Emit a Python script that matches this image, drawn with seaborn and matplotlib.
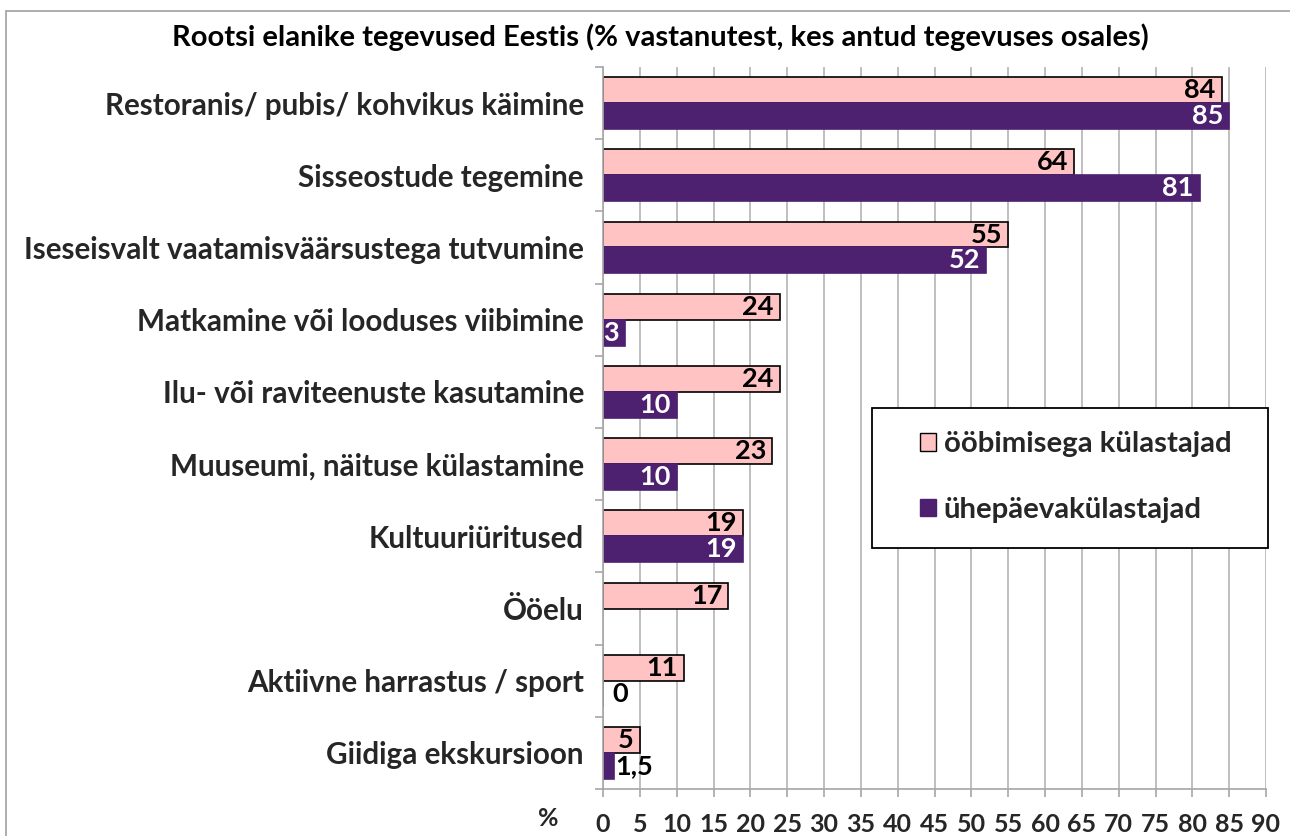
import numpy as np
import pandas as pd
import matplotlib
matplotlib.use("Agg")
import matplotlib.pyplot as plt
from matplotlib.patches import Rectangle
import seaborn as sns

# ---- data ----
categories = [
    "Restoranis/ pubis/ kohvikus käimine",
    "Sisseostude tegemine",
    "Iseseisvalt vaatamisväärsustega tutvumine",
    "Matkamine või looduses viibimine",
    "Ilu- või raviteenuste kasutamine",
    "Muuseumi, näituse külastamine",
    "Kultuuriüritused",
    "Ööelu",
    "Aktiivne harrastus / sport",
    "Giidiga ekskursioon",
]
series_names = ["ööbimisega külastajad", "ühepäevakülastajad"]
overnight = [84, 64, 55, 24, 24, 23, 19, 17, 11, 5]
sameday = [85, 81, 52, 3, 10, 10, 19, np.nan, 0, 1.5]
x_ticks = list(range(0, 95, 5))
title = "Rootsi elanike tegevused Eestis (% vastanutest, kes antud tegevuses osales)"

df = pd.DataFrame({
    "category": categories * 2,
    "value": overnight + sameday,
    "series": [series_names[0]] * len(categories) + [series_names[1]] * len(categories),
})

FONT = ["Lato", "DejaVu Sans"]
sns.set_theme(style="white")
plt.rcParams["font.family"] = FONT
plt.rcParams["font.weight"] = "bold"

W, H = 1290, 836
fig = plt.figure(figsize=(W / 100, H / 100), dpi=100)
ax = fig.add_axes([603 / W, 1 - 789 / H, (1266 - 603) / W, (789 - 67) / H])

pink = "#FFC3C3"
purple = "#4E2170"
sns.barplot(data=df, y="category", x="value", hue="series", orient="h",
            palette=[pink, purple], width=0.72, ax=ax, legend=False,
            order=categories, hue_order=series_names, saturation=1)

edge_colors = ["black", purple]
for cont, ec in zip(ax.containers, edge_colors):
    for p in cont.patches:
        p.set_edgecolor(ec)
        p.set_linewidth(1.2)

def fmt(v):
    if v == int(v):
        return str(int(v))
    return str(v).replace(".", ",")

# data labels: match each patch to its category by its position
for i, (cont, vals) in enumerate(zip(ax.containers, [overnight, sameday])):
    for p in cont.patches:
        yc = p.get_y() + p.get_height() / 2
        idx = int(round(yc))
        v = vals[idx]
        if v is None or (isinstance(v, float) and np.isnan(v)):
            continue
        if v < 2:
            ax.annotate(fmt(v), xy=(v, yc), xytext=(9 if v == 0 else 1, 0),
                        textcoords="offset pixels", ha="left", va="center",
                        fontsize=19.5, fontweight="bold", color="black")
        else:
            ax.annotate(fmt(v), xy=(v, yc), xytext=(-6, 0),
                        textcoords="offset pixels", ha="right", va="center",
                        fontsize=19.5, fontweight="bold",
                        color="black" if i == 0 else "white")

ax.set_xlim(0, 90)
ax.set_ylim(len(categories) - 0.5, -0.5)
ax.set_xticks(x_ticks)
ax.set_xticklabels([str(t) for t in x_ticks], fontsize=18, fontweight="bold")
ax.set_xlabel("")
ax.set_ylabel("")
ax.set_yticks(range(len(categories)))
ax.set_yticklabels(categories, fontsize=21.3, fontweight="bold")
ax.set_yticks(np.arange(-0.5, len(categories), 1), minor=True)
ax.tick_params(axis="y", which="major", length=0, pad=13.7)
ax.tick_params(axis="y", which="minor", length=6, color="#A6A6A6", width=1.2, direction="out", left=True)
ax.tick_params(axis="x", which="major", length=6, color="#A6A6A6", width=1.2,
               direction="out", bottom=True, pad=11)

ax.grid(axis="x", color="#BFBFBF", linewidth=1.4)
ax.grid(axis="y", visible=False)
ax.set_axisbelow(True)
for s in ["top", "right"]:
    ax.spines[s].set_visible(False)
for s in ["left", "bottom"]:
    ax.spines[s].set_color("#A6A6A6")
    ax.spines[s].set_linewidth(1.2)

# title
fig.text(660 / W, 1 - 37 / H, title, ha="center", va="center",
         fontsize=21, fontweight="bold", color="black")
# % unit label
fig.text(548 / W, 1 - 819 / H, "%", ha="center", va="center",
         fontsize=18, fontweight="bold")

# legend
handles = [Rectangle((0, 0), 1, 1, facecolor=pink, edgecolor="black", linewidth=1.0),
           Rectangle((0, 0), 1, 1, facecolor=purple, edgecolor=purple, linewidth=1.0)]
leg = fig.legend(handles, series_names, loc="center left",
                 bbox_to_anchor=(920 / W, 1 - 477 / H), bbox_transform=fig.transFigure,
                 frameon=False, borderpad=0, borderaxespad=0,
                 handlelength=0.55, handleheight=0.55, handletextpad=0.25,
                 labelspacing=1.35, prop={"size": 21.2, "weight": "bold"})
fig.add_artist(Rectangle((872 / W, 1 - 548 / H), (1268 - 872) / W, (548 - 408) / H,
                         transform=fig.transFigure, fill=True, facecolor="white",
                         edgecolor="black", linewidth=1.3, zorder=2))
leg.set_zorder(3)

# outer chart border
fig.add_artist(Rectangle((6 / W, -0.01), 1.02, 1 - 11 / H + 0.01,
                         transform=fig.transFigure, fill=False,
                         edgecolor="#A0A0A0", linewidth=1.2))

fig.savefig("out.png", dpi=100)
